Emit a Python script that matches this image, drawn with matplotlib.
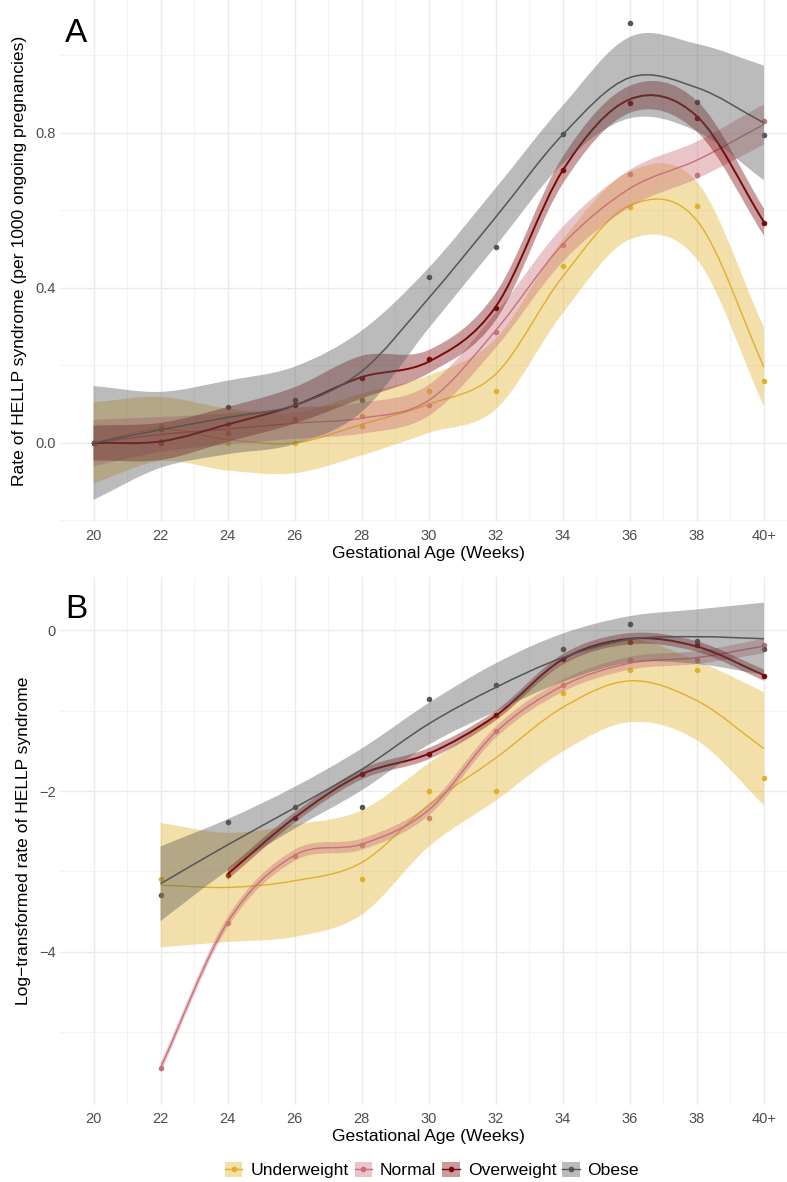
import numpy as np
import matplotlib
matplotlib.use("Agg")
import matplotlib.pyplot as plt
from matplotlib.path import Path
from matplotlib.patches import PathPatch, Patch
from matplotlib.lines import Line2D

plt.rcParams['font.family'] = ['Liberation Sans', 'DejaVu Sans']
plt.rcParams['axes.unicode_minus'] = True

# ---------------- data ----------------
groups = ["Underweight", "Normal", "Overweight", "Obese"]
colors = ["#E0B02A", "#C87078", "#780A0A", "#555555"]

weeks = [20, 22, 24, 26, 28, 30, 32, 34, 36, 38, 40]
week_labels = ["20", "22", "24", "26", "28", "30", "32", "34", "36", "38", "40+"]

# Panel A: observed rates (per 1000 ongoing pregnancies)
underweight_rate = [0.0, 0.045, 0.0, 0.0, 0.045, 0.135, 0.135, 0.457, 0.610, 0.612, 0.159]
normal_rate = [0.0, 0.004, 0.026, 0.061, 0.069, 0.097, 0.287, 0.510, 0.694, 0.692, 0.831]
overweight_rate = [0.0, 0.0, 0.048, 0.097, 0.167, 0.216, 0.349, 0.705, 0.878, 0.838, 0.568]
obese_rate = [0.0, 0.037, 0.093, 0.111, 0.111, 0.429, 0.507, 0.797, 1.083, 0.881, 0.794]

# Panel A: smoothed fit and ribbon half-width at each week
underweight_fit_a = [0.0, 0.036, 0.009, 0.0, 0.048, 0.100, 0.178, 0.430, 0.613, 0.574, 0.196]
underweight_hw_a = [0.105, 0.083, 0.080, 0.078, 0.080, 0.074, 0.091, 0.095, 0.088, 0.100, 0.102]
normal_fit_a = [0.0, 0.022, 0.036, 0.051, 0.064, 0.110, 0.291, 0.513, 0.657, 0.730, 0.822]
normal_hw_a = [0.060, 0.045, 0.040, 0.040, 0.040, 0.040, 0.045, 0.045, 0.048, 0.048, 0.052]
overweight_fit_a = [0.0, 0.004, 0.048, 0.097, 0.170, 0.210, 0.352, 0.704, 0.887, 0.843, 0.570]
overweight_hw_a = [0.045, 0.048, 0.045, 0.047, 0.055, 0.030, 0.035, 0.035, 0.035, 0.040, 0.035]
obese_fit_a = [0.0, 0.034, 0.066, 0.097, 0.185, 0.374, 0.583, 0.796, 0.943, 0.917, 0.826]
obese_hw_a = [0.147, 0.098, 0.095, 0.100, 0.105, 0.078, 0.075, 0.075, 0.105, 0.113, 0.148]

# Panel B: log-transformed observed rates (zero rates are absent)
underweight_wk_b = [22, 28, 30, 32, 34, 36, 38, 40]
underweight_log = [-3.10, -3.10, -2.00, -2.00, -0.784, -0.494, -0.490, -1.837]
normal_wk_b = [22, 24, 26, 28, 30, 32, 34, 36, 38, 40]
normal_log = [-5.448, -3.649, -2.805, -2.668, -2.336, -1.249, -0.673, -0.367, -0.367, -0.183]
overweight_wk_b = [24, 26, 28, 30, 32, 34, 36, 38, 40]
overweight_log = [-3.04, -2.336, -1.79, -1.534, -1.057, -0.354, -0.140, -0.175, -0.567]
obese_wk_b = [22, 24, 26, 28, 30, 32, 34, 36, 38, 40]
obese_log = [-3.30, -2.38, -2.195, -2.195, -0.848, -0.682, -0.230, 0.081, -0.136, -0.230]

# Panel B: smoothed fit and ribbon half-width
underweight_fitwk_b = [22, 24, 26, 28, 30, 32, 34, 36, 38, 40]
underweight_fit_b = [-3.171, -3.200, -3.117, -2.890, -2.173, -1.588, -0.957, -0.627, -0.874, -1.472]
underweight_hw_b = [0.775, 0.680, 0.700, 0.650, 0.520, 0.530, 0.550, 0.515, 0.495, 0.705]
normal_fit_b = [-5.446, -3.634, -2.800, -2.662, -2.235, -1.266, -0.689, -0.408, -0.338, -0.194]
normal_hw_b = [0.060, 0.065, 0.070, 0.070, 0.070, 0.070, 0.075, 0.080, 0.080, 0.090]
overweight_fit_b = [-3.034, -2.331, -1.790, -1.534, -1.060, -0.359, -0.103, -0.200, -0.557]
overweight_hw_b = [0.070, 0.065, 0.065, 0.070, 0.060, 0.065, 0.070, 0.065, 0.070]
obese_fit_b = [-3.154, -2.670, -2.208, -1.731, -1.163, -0.709, -0.338, -0.111, -0.078, -0.103]
obese_hw_b = [0.465, 0.320, 0.260, 0.260, 0.260, 0.300, 0.300, 0.290, 0.340, 0.450]

# ---------------- helpers ----------------
def bezier_through(xs, ys):
    pts = np.column_stack([np.asarray(xs, float), np.asarray(ys, float)])
    ext = np.vstack([2 * pts[0] - pts[1], pts, 2 * pts[-1] - pts[-2]])
    verts = [pts[0]]
    codes = [Path.MOVETO]
    for i in range(len(pts) - 1):
        p0, p1, p2, p3 = ext[i], ext[i + 1], ext[i + 2], ext[i + 3]
        verts += [p1 + (p2 - p0) / 6.0, p2 - (p3 - p1) / 6.0, p2]
        codes += [Path.CURVE4] * 3
    return verts, codes


def draw_smooth(ax, xs, fit, hw, color, z, lw):
    fit = np.asarray(fit, float)
    hw = np.asarray(hw, float)
    up_v, up_c = bezier_through(xs, fit + hw)
    lo_v, lo_c = bezier_through(xs[::-1], (fit - hw)[::-1])
    lo_c = [Path.LINETO] + lo_c[1:]
    verts = up_v + lo_v + [up_v[0]]
    codes = up_c + lo_c + [Path.CLOSEPOLY]
    ax.add_patch(PathPatch(Path(verts, codes), facecolor=color, alpha=0.4,
                           edgecolor='none', zorder=z))
    lv, lc = bezier_through(xs, fit)
    ax.add_patch(PathPatch(Path(lv, lc), facecolor='none', edgecolor=color,
                           lw=lw, zorder=z + 0.5, capstyle='butt'))


def style_axes(ax):
    for s in ax.spines.values():
        s.set_visible(False)
    ax.set_xlim(19, 41)
    ax.set_xticks(weeks)
    ax.set_xticklabels(week_labels)
    ax.set_xticks(np.arange(21, 40, 2), minor=True)
    ax.tick_params(which='both', length=0)
    ax.tick_params(axis='x', which='major', labelsize=10.5, colors='#4D4D4D', pad=5)
    ax.tick_params(axis='y', which='major', labelsize=10.5, colors='#4D4D4D', pad=3)
    ax.grid(which='major', color='#EBEBEB', lw=1.0, zorder=0)
    ax.grid(which='minor', color='#F1F1F1', lw=0.6, zorder=0)
    ax.set_axisbelow(True)
    ax.set_xlabel("Gestational Age (Weeks)", fontsize=12.6, labelpad=2)


W, H = 787, 1182
fig = plt.figure(figsize=(W / 100, H / 100), dpi=100)

x0, x1 = 60.0, 797.5
axA = fig.add_axes([x0 / W, 1 - 522 / H, (x1 - x0) / W, 522 / H])
axB = fig.add_axes([x0 / W, 1 - 1105 / H, (x1 - x0) / W, (1105 - 577) / H])

wk = np.array(weeks, float)

# ---------- Panel A ----------
rates = [underweight_rate, normal_rate, overweight_rate, obese_rate]
fits_a = [underweight_fit_a, normal_fit_a, overweight_fit_a, obese_fit_a]
hws_a = [underweight_hw_a, normal_hw_a, overweight_hw_a, obese_hw_a]
lws = [1.0, 1.0, 1.4, 1.1]
for i, (r, c) in enumerate(zip(rates, colors)):
    axA.scatter(wk, r, s=16, color=c, zorder=2, linewidths=0)
for i, (f, h, c) in enumerate(zip(fits_a, hws_a, colors)):
    draw_smooth(axA, wk, f, h, c, 3 + 2 * i, lws[i])

style_axes(axA)
axA.set_ylim(-0.2039, 1.1432)
axA.set_yticks([0.0, 0.4, 0.8])
axA.set_yticklabels(["0.0", "0.4", "0.8"])
axA.set_yticks([-0.2, 0.2, 0.6, 1.0], minor=True)
axA.set_ylabel("Rate of HELLP syndrome (per 1000 ongoing pregnancies)", fontsize=12.6, labelpad=6)

# ---------- Panel B ----------
pts_b = [(underweight_wk_b, underweight_log), (normal_wk_b, normal_log),
         (overweight_wk_b, overweight_log), (obese_wk_b, obese_log)]
for (xs, ys), c in zip(pts_b, colors):
    axB.scatter(xs, ys, s=16, color=c, zorder=2, linewidths=0)
fits_b = [(underweight_fitwk_b, underweight_fit_b, underweight_hw_b),
          (normal_wk_b, normal_fit_b, normal_hw_b),
          (overweight_wk_b, overweight_fit_b, overweight_hw_b),
          (obese_wk_b, obese_fit_b, obese_hw_b)]
for i, ((xs, f, h), c) in enumerate(zip(fits_b, colors)):
    draw_smooth(axB, np.array(xs, float), f, h, c, 3 + 2 * i, lws[i])

style_axes(axB)
axB.set_ylim(-5.91, 0.666)
axB.set_yticks([0, -2, -4])
axB.set_yticklabels(["0", "\u22122", "\u22124"])
axB.set_yticks([-1, -3, -5], minor=True)
axB.set_ylabel("Log\u2212transformed rate of HELLP syndrome", fontsize=12.6, labelpad=6)

# panel tags
fig.text(65 / W, 1 - 42 / H, "A", fontsize=24, ha='left', va='baseline')
fig.text(65 / W, 1 - 618 / H, "B", fontsize=24, ha='left', va='baseline')

# legend
handles = []
for c in colors:
    handles.append((Patch(facecolor=c, alpha=0.4, edgecolor='none'),
                    Line2D([], [], color=c, lw=1.0, marker='o', markersize=3)))
fig.legend(handles, groups, loc='center', bbox_to_anchor=(432 / W, 1 - 1170 / H),
           ncol=4, frameon=False, fontsize=12.6, handlelength=1.0, handleheight=1.0,
           handletextpad=0.45, columnspacing=0.35)

fig.savefig("out.png", dpi=100)
